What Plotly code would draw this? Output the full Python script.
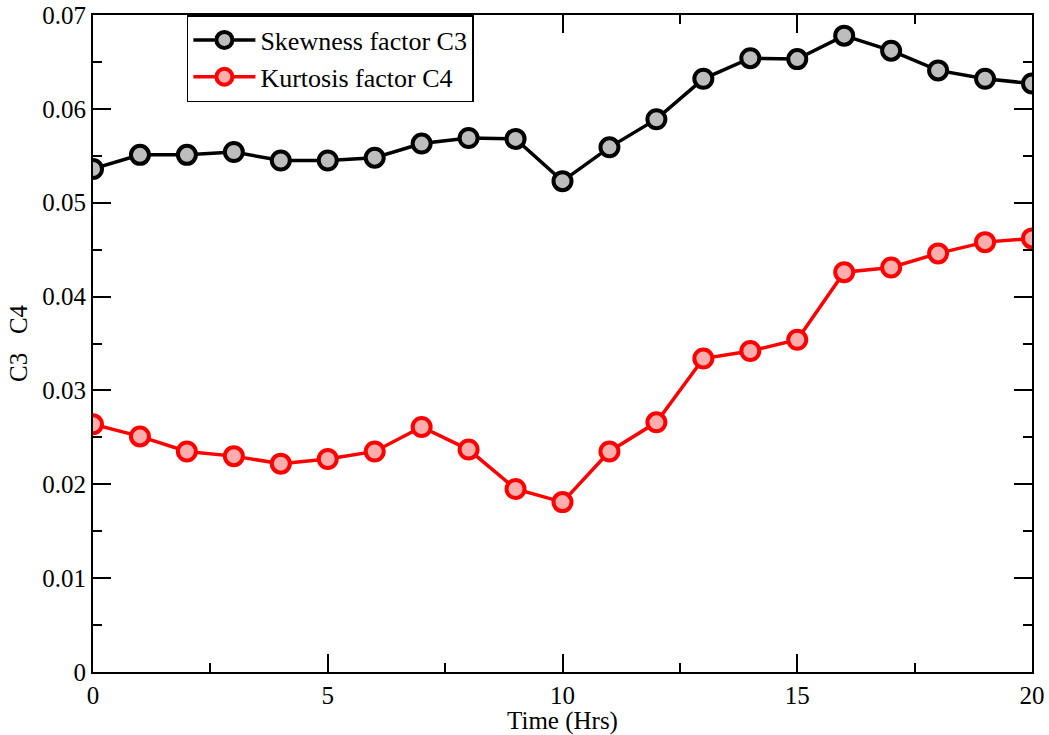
import plotly.graph_objects as go

hours = list(range(21))
skewness_c3 = [0.0536, 0.0551, 0.0551, 0.0554, 0.0545, 0.0545, 0.0548, 0.0563, 0.0569, 0.0568,
               0.0523, 0.0559, 0.0589, 0.0632, 0.0654, 0.0653, 0.0678, 0.0662, 0.0641, 0.0632, 0.0627]
kurtosis_c4 = [0.0264, 0.0251, 0.0235, 0.0230, 0.0222, 0.0227, 0.0235, 0.0261, 0.0237, 0.0195,
               0.0181, 0.0235, 0.0266, 0.0334, 0.0342, 0.0354, 0.0426, 0.0431, 0.0446, 0.0458, 0.0462]
x_ticks = [0, 5, 10, 15, 20]
y_ticks = [0, 0.01, 0.02, 0.03, 0.04, 0.05, 0.06, 0.07]
y_tick_labels = ["0", "0.01", "0.02", "0.03", "0.04", "0.05", "0.06", "0.07"]

font = "Liberation Serif, Times New Roman, serif"

fig = go.Figure()
fig.add_trace(go.Scatter(
    x=hours, y=skewness_c3, mode="lines+markers", name="Skewness factor C3",
    line=dict(color="black", width=3.5),
    marker=dict(symbol="circle", size=18, color="#bdbdbd", line=dict(color="black", width=4)),
))
fig.add_trace(go.Scatter(
    x=hours, y=kurtosis_c4, mode="lines+markers", name="Kurtosis factor C4",
    line=dict(color="#ff0000", width=3.5),
    marker=dict(symbol="circle", size=18, color="#ffadad", line=dict(color="#ff0000", width=4)),
))

axis_common = dict(
    showline=True, linecolor="black", linewidth=2, mirror="allticks",
    ticks="inside", ticklen=18, tickwidth=1.5, tickcolor="black",
    showgrid=False, zeroline=False, automargin=False,
    tickfont=dict(family=font, size=25, color="black"),
)

fig.update_xaxes(range=[0, 20], tickvals=x_ticks,
                 minor=dict(dtick=2.5, tick0=0, ticks="inside", ticklen=9, tickwidth=1.5, tickcolor="black"),
                 title=dict(text="Time (Hrs)", font=dict(family=font, size=25, color="black"), standoff=0),
                 **axis_common)
fig.update_yaxes(range=[0, 0.07], tickvals=y_ticks, ticktext=y_tick_labels,
                 minor=dict(dtick=0.005, tick0=0, ticks="inside", ticklen=9, tickwidth=1.5, tickcolor="black"),
                 title=dict(text="C3   C4", font=dict(family=font, size=25, color="black"), standoff=8),
                 **axis_common)

fig.update_layout(
    width=1049, height=735,
    margin=dict(l=93, r=17, t=15, b=63),
    paper_bgcolor="white", plot_bgcolor="white",
    showlegend=True,
    legend=dict(x=0.1, y=1.0, xanchor="left", yanchor="top",
                bgcolor="white", bordercolor="black", borderwidth=1.5,
                font=dict(family=font, size=26, color="black"),
                tracegroupgap=0, itemwidth=62),
)

fig.write_html("out.html")
